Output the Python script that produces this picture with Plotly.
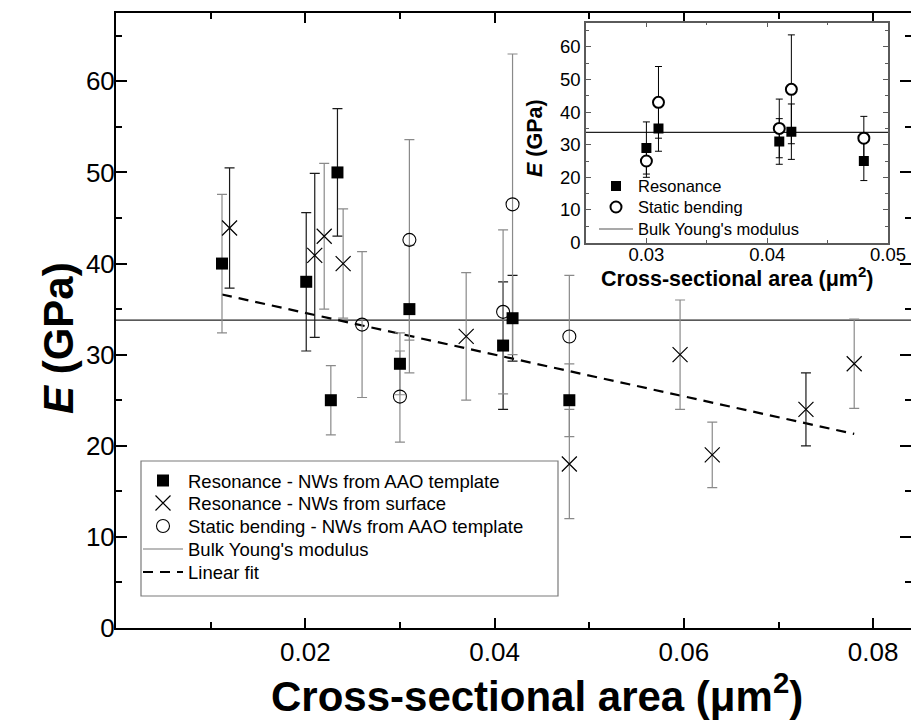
import plotly.graph_objects as go

# ---------------- data (main plot) ----------------
res_aao_x = [0.0112, 0.0201, 0.0227, 0.0234, 0.0300, 0.0310, 0.0409, 0.0419, 0.0479]
res_aao_y = [40.0, 38.0, 25.0, 50.0, 29.0, 35.0, 31.0, 34.0, 25.0]
res_aao_err = [7.6, 7.6, 3.8, 7.0, 3.4, 7.0, 7.0, 4.7, 4.0]

res_surf_x = [0.0120, 0.0210, 0.0220, 0.0240, 0.0370, 0.0479, 0.0596, 0.0630, 0.0729, 0.0780]
res_surf_y = [43.9, 40.9, 43.0, 40.0, 32.0, 18.0, 30.0, 19.0, 24.0, 29.0]
res_surf_err = [6.6, 9.0, 8.0, 6.0, 7.0, 6.0, 6.0, 3.6, 4.0, 4.9]

static_x = [0.0260, 0.0300, 0.0310, 0.0409, 0.0419, 0.0479]
static_y = [33.3, 25.4, 42.6, 34.7, 46.5, 32.0]
static_err = [8.0, 5.0, 11.0, 9.0, 16.5, 6.7]

bulk_modulus = 33.8
fit_x = [0.0112, 0.0780]
fit_y = [36.6, 21.3]

x_tick_vals = [0.02, 0.04, 0.06, 0.08]
x_tick_text = ["0.02", "0.04", "0.06", "0.08"]
y_tick_vals = [0, 10, 20, 30, 40, 50, 60]
y_tick_text = ["0", "10", "20", "30", "40", "50", "60"]

# ---------------- data (inset) ----------------
in_res_x = [0.030, 0.031, 0.041, 0.042, 0.048]
in_res_y = [29.0, 35.0, 31.0, 34.0, 25.0]
in_res_err = [8.0, 7.0, 7.0, 8.5, 6.0]

in_sta_x = [0.030, 0.031, 0.041, 0.042, 0.048]
in_sta_y = [25.0, 43.0, 35.0, 47.0, 32.0]
in_sta_err = [5.0, 11.0, 9.0, 16.7, 6.7]

in_x_tick_vals = [0.03, 0.04, 0.05]
in_x_tick_text = ["0.03", "0.04", "0.05"]

# ---------------- style ----------------
FONT = "Liberation Sans, Arial, sans-serif"
DARK = "#1a1a1a"
GRAY = "#8a8a8a"
dark_bars = {"aao": [1, 3, 6, 7], "surf": [0, 1, 8], "static": []}

W, H = 911, 722
ML, MR, MT, MB = 116, 0, 13, 94
PW, PH = W - ML - MR, H - MT - MB


def px(xp):
    return (xp - ML) / PW


def py(yp):
    return (H - MB - yp) / PH


fig = go.Figure()


def err_traces(xs, ys, es, dark_idx, xa="x", ya="y"):
    groups = [
        ([i for i in range(len(xs)) if i in dark_idx], DARK),
        ([i for i in range(len(xs)) if i not in dark_idx], GRAY),
    ]
    for idx, col in groups:
        if not idx:
            continue
        fig.add_trace(go.Scatter(
            x=[xs[i] for i in idx], y=[ys[i] for i in idx],
            mode="markers", marker=dict(size=1, opacity=0),
            error_y=dict(type="data", array=[es[i] for i in idx], visible=True,
                         color=col, thickness=1.2, width=5),
            showlegend=False, hoverinfo="skip", xaxis=xa, yaxis=ya))


# bulk line and fit (behind markers)
fig.add_trace(go.Scatter(x=[0, 0.084], y=[bulk_modulus, bulk_modulus], mode="lines",
                         line=dict(color="#222", width=1.2), showlegend=False))
fig.add_trace(go.Scatter(x=fit_x, y=fit_y, mode="lines",
                         line=dict(color="black", width=2.2, dash="10px,7px"),
                         showlegend=False))

err_traces(res_aao_x, res_aao_y, res_aao_err, dark_bars["aao"])
err_traces(res_surf_x, res_surf_y, res_surf_err, dark_bars["surf"])
err_traces(static_x, static_y, static_err, dark_bars["static"])

fig.add_trace(go.Scatter(
    x=res_aao_x, y=res_aao_y, mode="markers", name="Resonance - NWs from AAO template",
    marker=dict(symbol="square", size=12, color="black", line=dict(width=0)), legend="legend"))
fig.add_trace(go.Scatter(
    x=res_surf_x, y=res_surf_y, mode="markers", name="Resonance - NWs from surface",
    marker=dict(symbol="x-thin-open", size=15, color="black", line=dict(width=1.2, color="black")),
    legend="legend2"))
fig.add_trace(go.Scatter(
    x=static_x, y=static_y, mode="markers", name="Static bending - NWs from AAO template",
    marker=dict(symbol="circle-open", size=13, color="black", line=dict(width=1.1, color="black")),
    legend="legend3"))
fig.add_trace(go.Scatter(x=[None], y=[None], mode="lines", name="Bulk Young's modulus",
                         line=dict(color="#777", width=1.2), legend="legend4"))
fig.add_trace(go.Scatter(x=[None], y=[None], mode="lines", name="Linear fit",
                         line=dict(color="black", width=2.2, dash="10px,7px"), legend="legend5"))

# ---------------- inset ----------------
fig.add_trace(go.Scatter(x=[0.025, 0.05], y=[bulk_modulus, bulk_modulus], mode="lines",
                         line=dict(color="#222", width=1.2), showlegend=False,
                         xaxis="x2", yaxis="y2"))

for xs, ys, es in [(in_res_x, in_res_y, in_res_err), (in_sta_x, in_sta_y, in_sta_err)]:
    fig.add_trace(go.Scatter(
        x=xs, y=ys, mode="markers", marker=dict(size=1, opacity=0),
        error_y=dict(type="data", array=es, visible=True, color="black", thickness=1, width=3.5),
        showlegend=False, hoverinfo="skip", xaxis="x2", yaxis="y2"))

fig.add_trace(go.Scatter(
    x=in_res_x, y=in_res_y, mode="markers", name="Resonance",
    marker=dict(symbol="square", size=10, color="black", line=dict(width=0)),
    xaxis="x2", yaxis="y2", legend="legend6"))
fig.add_trace(go.Scatter(
    x=in_sta_x, y=in_sta_y, mode="markers", name="Static bending",
    marker=dict(symbol="circle", size=11, color="white", line=dict(width=2, color="black")),
    xaxis="x2", yaxis="y2", legend="legend7"))
fig.add_trace(go.Scatter(x=[None], y=[None], mode="lines", name="Bulk Young's modulus",
                         line=dict(color="#555", width=1.2), xaxis="x2", yaxis="y2",
                         legend="legend8"))

axis_common = dict(showgrid=False, zeroline=False, showline=True, ticks="inside",
                   automargin=False)


def one_legend(x_left, y_center, size, itemwidth):
    top = y_center - (size * 1.3 + 3) / 2 - 5.5
    return dict(x=px(x_left), y=py(top), xanchor="left", yanchor="top",
                bgcolor="rgba(0,0,0,0)", borderwidth=0, itemwidth=itemwidth,
                font=dict(size=size, family=FONT))


main_rows = [481, 503.5, 526.5, 549.5, 572.5]
inset_rows = [186.5, 207.5, 229.5]
legends = {}
for i, yc in enumerate(main_rows):
    key = "legend" if i == 0 else "legend%d" % (i + 1)
    legends[key] = one_legend(138, yc, 18.5, 40)
for j, yc in enumerate(inset_rows):
    legends["legend%d" % (j + 6)] = one_legend(594, yc, 16.5, 34)

fig.update_layout(
    width=W, height=H, autosize=False,
    margin=dict(l=ML, r=MR, t=MT, b=MB, pad=0, autoexpand=False),
    paper_bgcolor="white", plot_bgcolor="white",
    font=dict(family=FONT, color="black"),
    xaxis=dict(**axis_common, range=[0, 0.084], tickmode="array",
               tickvals=x_tick_vals, ticktext=x_tick_text,
               linecolor="black", linewidth=2, mirror="ticks",
               ticklen=10, tickwidth=2, tickcolor="black",
               tickfont=dict(size=26, family=FONT),
               minor=dict(dtick=0.01, tick0=0, ticks="inside", ticklen=6, tickwidth=1.5,
                          tickcolor="black", showgrid=False)),
    yaxis=dict(**axis_common, range=[0, 67.5], tickmode="array",
               tickvals=y_tick_vals, ticktext=y_tick_text,
               linecolor="black", linewidth=2, mirror="ticks",
               ticklen=11, tickwidth=2, tickcolor="black",
               tickfont=dict(size=26, family=FONT), ticklabelstandoff=-6,
               minor=dict(dtick=5, tick0=0, ticks="inside", ticklen=6, tickwidth=1.5,
                          tickcolor="black", showgrid=False)),
    xaxis2=dict(**axis_common, domain=[px(586), px(888)], anchor="y2", range=[0.025, 0.05],
                tickmode="array", tickvals=in_x_tick_vals, ticktext=in_x_tick_text,
                linecolor="#5a5a5a", linewidth=1.5, mirror="ticks",
                ticklen=5, tickwidth=1.2, tickcolor="#5a5a5a",
                tickfont=dict(size=18.5, family=FONT), ticklabelstandoff=-5,
                minor=dict(dtick=0.005, tick0=0.025, ticks="inside", ticklen=3, tickwidth=1,
                           tickcolor="#5a5a5a", showgrid=False)),
    yaxis2=dict(**axis_common, domain=[py(242.5), py(22.5)], anchor="x2", range=[0, 67.5],
                tickmode="array", tickvals=y_tick_vals, ticktext=y_tick_text,
                linecolor="#5a5a5a", linewidth=1.5, mirror="ticks",
                ticklen=5, tickwidth=1.2, tickcolor="#5a5a5a",
                tickfont=dict(size=18.5, family=FONT),
                minor=dict(dtick=5, tick0=0, ticks="inside", ticklen=3, tickwidth=1,
                           tickcolor="#5a5a5a", showgrid=False)),
    shapes=[dict(type="rect", xref="paper", yref="paper",
                 x0=px(141), x1=px(558), y0=py(596), y1=py(461),
                 line=dict(color="#7a7a7a", width=1.2), fillcolor="rgba(0,0,0,0)")],
    annotations=[
        dict(text="<b><i>E</i> (GPa)</b>", xref="paper", yref="paper",
             x=px(58), y=py(338), textangle=-90, showarrow=False,
             font=dict(size=42, family=FONT), xanchor="center", yanchor="middle"),
        dict(text="<b>Cross-sectional area (\u03bcm<sup>2</sup>)</b>", xref="paper", yref="paper",
             x=px(537), y=py(693), showarrow=False,
             font=dict(size=42, family=FONT), xanchor="center", yanchor="middle"),
        dict(text="<b><i>E</i> (GPa)</b>", xref="paper", yref="paper",
             x=px(535), y=py(138), textangle=-90, showarrow=False,
             font=dict(size=21.5, family=FONT), xanchor="center", yanchor="middle"),
        dict(text="<b>Cross-sectional area (\u03bcm<sup>2</sup>)</b>", xref="paper", yref="paper",
             x=px(737), y=py(277), showarrow=False,
             font=dict(size=21.5, family=FONT), xanchor="center", yanchor="middle"),
    ],
    **legends,
)

fig.write_html(
    "out.html",
    config={"displayModeBar": False},
    post_script="document.body.style.margin='0';document.body.style.overflow='hidden';"
                "document.documentElement.style.overflow='hidden';",
)
